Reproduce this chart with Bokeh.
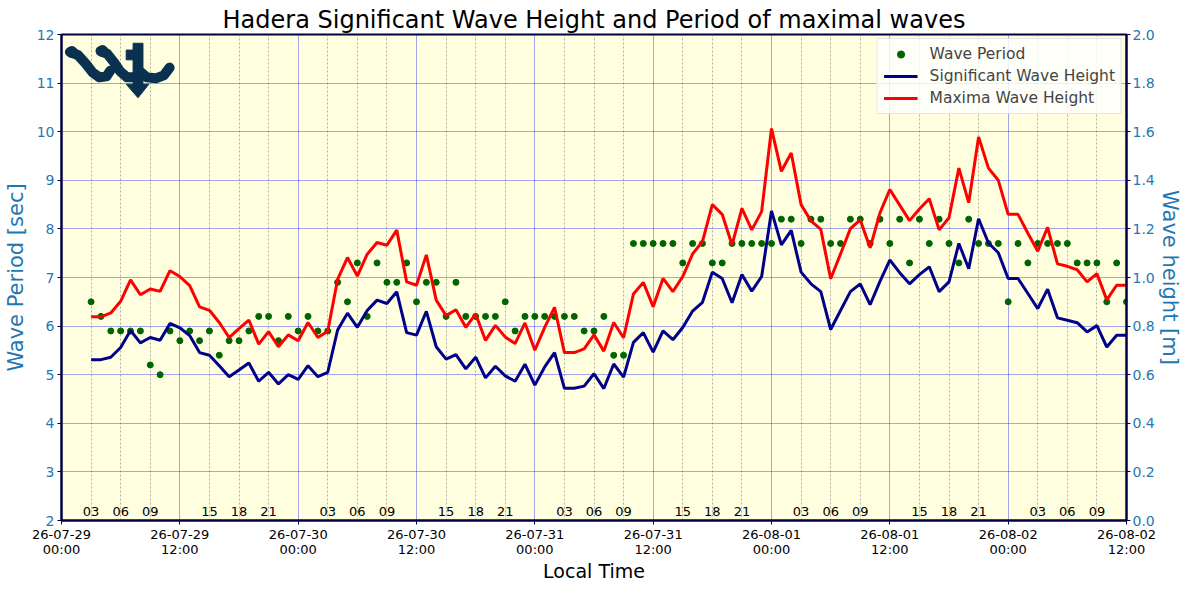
from bokeh.plotting import figure
from bokeh.models import Range1d, LinearAxis, FixedTicker, Legend, LegendItem, ColumnDataSource
from bokeh.core.properties import value
from bokeh.embed import file_html
from bokeh.resources import INLINE

title = "Hadera Significant Wave Height and Period of maximal waves"
x_label = "Local Time"
left_label = "Wave Period [sec]"
right_label = "Wave height [m]"

# hours since 26-07-29 00:00 (hourly records)
hours = list(range(3, 109))

period = [6.5, 6.2, 5.9, 5.9, 5.9, 5.9, 5.2, 5.0, 5.9, 5.7,
          5.9, 5.7, 5.9, 5.4, 5.7, 5.7, 5.9, 6.2, 6.2, 5.7,
          6.2, 5.9, 6.2, 5.9, 5.9, 6.9, 6.5, 7.3, 6.2, 7.3,
          6.9, 6.9, 7.3, 6.5, 6.9, 6.9, 6.2, 6.9, 6.2, 6.2,
          6.2, 6.2, 6.5, 5.9, 6.2, 6.2, 6.2, 6.2, 6.2, 6.2,
          5.9, 5.9, 6.2, 5.4, 5.4, 7.7, 7.7, 7.7, 7.7, 7.7,
          7.3, 7.7, 7.7, 7.3, 7.3, 7.7, 7.7, 7.7, 7.7, 7.7,
          8.2, 8.2, 7.7, 8.2, 8.2, 7.7, 7.7, 8.2, 8.2, 7.7,
          8.2, 7.7, 8.2, 7.3, 8.2, 7.7, 8.2, 7.7, 7.3, 8.2,
          7.7, 7.7, 7.7, 6.5, 7.7, 7.3, 7.7, 7.7, 7.7, 7.7,
          7.3, 7.3, 7.3, 6.5, 7.3, 6.5]

sig_height = [0.662, 0.662, 0.672, 0.712, 0.782, 0.731, 0.753, 0.742, 0.811, 0.793,
              0.761, 0.691, 0.680, 0.637, 0.592, 0.619, 0.648, 0.573, 0.610, 0.562,
              0.600, 0.581, 0.637, 0.592, 0.610, 0.784, 0.853, 0.795, 0.864, 0.907,
              0.893, 0.941, 0.773, 0.763, 0.861, 0.715, 0.664, 0.683, 0.624, 0.672,
              0.587, 0.635, 0.595, 0.573, 0.643, 0.557, 0.632, 0.691, 0.544, 0.544,
              0.553, 0.604, 0.543, 0.644, 0.590, 0.733, 0.773, 0.693, 0.780, 0.744,
              0.794, 0.862, 0.898, 1.022, 0.996, 0.896, 1.012, 0.944, 1.004, 1.274,
              1.134, 1.194, 1.022, 0.974, 0.942, 0.786, 0.864, 0.942, 0.974, 0.888,
              0.984, 1.072, 1.020, 0.974, 1.012, 1.044, 0.942, 0.982, 1.140, 1.036,
              1.242, 1.142, 1.102, 0.996, 0.996, 0.934, 0.872, 0.952, 0.834, 0.824,
              0.814, 0.776, 0.802, 0.714, 0.762, 0.762]

max_height = [0.838, 0.838, 0.854, 0.902, 0.990, 0.929, 0.953, 0.943, 1.028, 1.004,
              0.967, 0.879, 0.865, 0.815, 0.753, 0.790, 0.825, 0.726, 0.777, 0.715,
              0.764, 0.740, 0.815, 0.753, 0.779, 0.992, 1.082, 1.006, 1.096, 1.144,
              1.133, 1.195, 0.982, 0.968, 1.093, 0.907, 0.843, 0.867, 0.795, 0.850,
              0.741, 0.803, 0.755, 0.728, 0.813, 0.701, 0.795, 0.877, 0.691, 0.691,
              0.706, 0.764, 0.697, 0.815, 0.752, 0.932, 0.980, 0.880, 0.996, 0.942,
              1.004, 1.097, 1.148, 1.300, 1.260, 1.134, 1.284, 1.196, 1.271, 1.613,
              1.437, 1.512, 1.300, 1.233, 1.198, 0.995, 1.097, 1.201, 1.237, 1.122,
              1.266, 1.362, 1.298, 1.234, 1.282, 1.324, 1.196, 1.246, 1.450, 1.308,
              1.578, 1.450, 1.400, 1.260, 1.260, 1.182, 1.108, 1.206, 1.056, 1.046,
              1.032, 0.982, 1.016, 0.908, 0.968, 0.968]

major_hours = [0, 12, 24, 36, 48, 60, 72, 84, 96, 108]
major_labels = ["26-07-29\n00:00", "26-07-29\n12:00", "26-07-30\n00:00", "26-07-30\n12:00",
                "26-07-31\n00:00", "26-07-31\n12:00", "26-08-01\n00:00", "26-08-01\n12:00",
                "26-08-02\n00:00", "26-08-02\n12:00"]
minor_hours = [3, 6, 9, 15, 18, 21, 27, 30, 33, 39, 42, 45, 51, 54, 57, 63, 66, 69,
               75, 78, 81, 87, 90, 93, 99, 102, 105]
minor_labels = ["03", "06", "09", "15", "18", "21"] * 4 + ["03", "06", "09"]

period_ticks = [2, 3, 4, 5, 6, 7, 8, 9, 10, 11, 12]
height_ticks = [0.0, 0.2, 0.4, 0.6, 0.8, 1.0, 1.2, 1.4, 1.6, 1.8, 2.0]
height_tick_labels = ["0.0", "0.2", "0.4", "0.6", "0.8", "1.0", "1.2", "1.4", "1.6", "1.8", "2.0"]

FONT = "DejaVu Sans"
TICK_BLUE = "#1f77b4"
SPINE = "#000040"

p = figure(width=1184, height=584, x_range=Range1d(0, 108), y_range=Range1d(2, 12),
           output_backend="svg", toolbar_location=None,
           min_border_left=56, min_border_right=0, min_border_top=34, min_border_bottom=0,
           background_fill_color="#ffffe0", border_fill_color="white")
p.extra_y_ranges = {"h": Range1d(0, 2)}

p.title.text = title
p.title.text_font = FONT
p.title.text_font_size = "24px"
p.title.text_font_style = "normal"
p.title.text_color = "black"
p.title.align = "center"
p.title.standoff = 2

p.outline_line_color = SPINE
p.outline_line_width = 2

# x axis
xax = p.xaxis[0]
xax.ticker = FixedTicker(ticks=major_hours, minor_ticks=minor_hours)
xax.major_label_overrides = {h: l for h, l in zip(major_hours, major_labels)}
xax.major_label_text_font = FONT
xax.major_label_text_font_size = "13px"
xax.major_label_text_color = "black"
xax.major_label_text_line_height = 1.0
xax.minor_tick_line_color = None
xax.major_tick_in = 0
xax.major_tick_out = 4
xax.axis_line_color = SPINE
xax.axis_line_width = 2
xax.major_tick_line_color = SPINE
xax.major_label_standoff = 2
xax.axis_label = x_label
xax.axis_label_text_font = FONT
xax.axis_label_text_font_size = "19px"
xax.axis_label_text_font_style = "normal"
xax.axis_label_text_color = "black"
xax.axis_label_text_line_height = 1.0
xax.axis_label_standoff = 0

# left axis
yax = p.yaxis[0]
yax.ticker = FixedTicker(ticks=period_ticks)
yax.major_label_text_font = FONT
yax.major_label_text_font_size = "14px"
yax.major_label_text_color = TICK_BLUE
yax.minor_tick_line_color = None
yax.major_tick_in = 0
yax.major_tick_out = 4
yax.axis_line_color = SPINE
yax.axis_line_width = 2
yax.major_tick_line_color = SPINE
yax.axis_label = left_label
yax.axis_label_text_font = FONT
yax.axis_label_text_font_size = "21px"
yax.axis_label_text_font_style = "normal"
yax.axis_label_text_color = TICK_BLUE
yax.axis_label_text_line_height = 1.0
yax.axis_label_standoff = 6
yax.major_label_standoff = 3

# right axis
rax = LinearAxis(y_range_name="h", ticker=FixedTicker(ticks=height_ticks))
rax.major_label_overrides = {t: l for t, l in zip(height_ticks, height_tick_labels)}
rax.major_label_text_font = FONT
rax.major_label_text_font_size = "14px"
rax.major_label_text_color = TICK_BLUE
rax.minor_tick_line_color = None
rax.major_tick_in = 0
rax.major_tick_out = 4
rax.axis_line_color = SPINE
rax.axis_line_width = 2
rax.major_tick_line_color = SPINE
rax.major_label_standoff = 2
rax.axis_label = right_label
rax.axis_label_text_font = FONT
rax.axis_label_text_font_size = "21px"
rax.axis_label_text_font_style = "normal"
rax.axis_label_text_color = TICK_BLUE
rax.axis_label_text_line_height = 1.0
rax.axis_label_standoff = 0
p.add_layout(rax, "right")

# grids
p.xgrid.grid_line_color = "#0000ff"
p.xgrid.grid_line_alpha = 0.45
p.xgrid.grid_line_width = 0.8
p.xgrid.minor_grid_line_color = "#707070"
p.xgrid.minor_grid_line_alpha = 0.8
p.xgrid.minor_grid_line_dash = "2 2"
p.xgrid.minor_grid_line_width = 0.7
p.ygrid.grid_line_color = "#0000ff"
p.ygrid.grid_line_alpha = 0.45
p.ygrid.grid_line_width = 0.8

# in-plot hour labels
p.text(x=minor_hours, y=[2.19] * len(minor_hours), text=minor_labels,
       text_font=value(FONT), text_font_size="13px", text_color="black",
       text_align="center", text_baseline="middle")

# logo (decoration), drawn in pixel-like units and mapped onto the axes
def px_to_data(px, py):
    return (px - 61.5) / (1078.5 / 108.0), 12 - (py - 35) / (499.0 / 10.0)

LOGO = "#0b3150"
logo_strokes = [
    [(70, 53), (78, 56), (86, 65), (93, 74), (100, 79), (107, 78), (111, 72)],
    [(101, 52), (108, 55), (115, 64), (121, 73), (128, 79), (136, 79), (141, 74)],
    [(142, 74), (148, 79), (157, 80), (165, 77), (171, 69)],
]
lx, ly = [], []
for s in logo_strokes:
    pts = [px_to_data(a, b) for a, b in s]
    lx.append([q[0] for q in pts])
    ly.append([q[1] for q in pts])
p.multi_line(xs=lx, ys=ly, line_color=LOGO, line_width=10, line_cap="round", line_join="round")
blob_pts = [px_to_data(a, b) for a, b in [(72, 53), (103, 52)]]
p.scatter(x=[q[0] for q in blob_pts], y=[q[1] for q in blob_pts], size=11, color=LOGO)
arrow_polys = [
    [(134, 44), (144, 44), (144, 86), (150, 86), (139, 100), (127, 86), (134, 86)],
    [(127, 51), (135, 51), (135, 61), (127, 61)],
]
ax_, ay_ = [], []
for poly in arrow_polys:
    pts = [px_to_data(a, b) for a, b in poly]
    ax_.append([q[0] for q in pts])
    ay_.append([q[1] for q in pts])
p.patches(xs=ax_, ys=ay_, fill_color=LOGO, line_color=LOGO)

# data
src = ColumnDataSource(dict(hour=hours, period=period, sig=sig_height, mx=max_height))
sc = p.scatter(x="hour", y="period", source=src, size=6, color="#006400")
l_sig = p.line(x="hour", y="sig", source=src, y_range_name="h", line_color="#00008b", line_width=3)
l_max = p.line(x="hour", y="mx", source=src, y_range_name="h", line_color="#ff0000", line_width=3)

legend = Legend(items=[LegendItem(label="Wave Period", renderers=[sc]),
                       LegendItem(label="Significant Wave Height", renderers=[l_sig]),
                       LegendItem(label="Maxima Wave Height", renderers=[l_max])],
                location="top_right")
legend.label_text_font = FONT
legend.label_text_font_size = "15.5px"
legend.label_height = 18
legend.glyph_height = 18
legend.glyph_width = 34
legend.spacing = 4
legend.padding = 6
legend.margin = 4
legend.label_standoff = 12
legend.border_line_color = "#cccccc"
legend.background_fill_color = "white"
legend.background_fill_alpha = 0.8
p.add_layout(legend)

open("out.html", "w").write(file_html(p, INLINE))
